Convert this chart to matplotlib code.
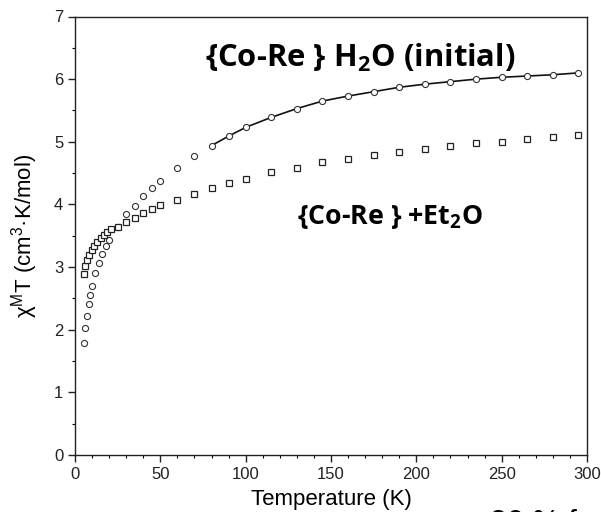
import numpy as np
import matplotlib
matplotlib.use('Agg')
import matplotlib.pyplot as plt
from matplotlib.ticker import MultipleLocator

plt.rcParams['font.family'] = ['Liberation Sans', 'DejaVu Sans']
plt.rcParams['mathtext.fontset'] = 'custom'
plt.rcParams['mathtext.rm'] = 'Liberation Sans'
plt.rcParams['mathtext.it'] = 'Liberation Sans:italic'
plt.rcParams['mathtext.bf'] = 'Open Sans:bold'

# {Co-Re} H2O (initial) - circles
t_h2o = [5, 6, 7, 8, 9, 10, 12, 14, 16, 18, 20, 25, 30, 35, 40, 45, 50, 60, 70,
         80, 90, 100, 115, 130, 145, 160, 175, 190, 205, 220, 235, 250, 265, 280, 295]
chi_h2o = [1.78, 2.02, 2.22, 2.41, 2.55, 2.70, 2.90, 3.07, 3.21, 3.33, 3.43, 3.64, 3.84, 3.98,
           4.14, 4.27, 4.38, 4.58, 4.77,
           4.94, 5.09, 5.23, 5.39, 5.53, 5.65, 5.73, 5.80, 5.87, 5.92, 5.96, 6.00, 6.03, 6.05,
           6.07, 6.10]

# {Co-Re} + Et2O - squares
t_et2o = [5, 6, 7, 8, 10, 11, 13, 15, 17, 19, 21, 25, 30, 35, 40, 45, 50, 60, 70,
          80, 90, 100, 115, 130, 145, 160, 175, 190, 205, 220, 235, 250, 265, 280, 295]
chi_et2o = [2.89, 3.01, 3.11, 3.20, 3.27, 3.33, 3.40, 3.46, 3.51, 3.56, 3.61, 3.64, 3.72, 3.78,
            3.87, 3.93, 3.99, 4.07, 4.17,
            4.26, 4.35, 4.40, 4.51, 4.58, 4.67, 4.72, 4.79, 4.84, 4.89, 4.93, 4.98, 5.00, 5.04,
            5.07, 5.11]

# fitted curve runs over the high-temperature part of the H2O data
fit_start = 80

W, H = 601, 512
fig = plt.figure(figsize=(W / 100, H / 100), dpi=100)
ax = fig.add_axes([75 / W, 1 - 455 / H, (587 - 75) / W, (455 - 16.5) / H])

t_fit = [t for t in t_h2o if t >= fit_start]
c_fit = [c for t, c in zip(t_h2o, chi_h2o) if t >= fit_start]
ax.plot(t_fit, c_fit, color='#111111', lw=1.2, zorder=2)

ax.plot(t_h2o, chi_h2o, 'o', ms=4.4, mfc='white', mec='#333333', mew=0.8, zorder=3)
ax.plot(t_et2o, chi_et2o, 's', ms=4.0, mfc='white', mec='#222222', mew=0.9, zorder=3)

ax.set_xlim(0, 300)
ax.set_ylim(0, 7)
ax.xaxis.set_major_locator(MultipleLocator(50))
ax.xaxis.set_minor_locator(MultipleLocator(10))
ax.yaxis.set_major_locator(MultipleLocator(1))
ax.yaxis.set_minor_locator(MultipleLocator(0.5))
ax.tick_params(which='major', direction='out', length=5, width=1, labelsize=12, colors='#222222')
ax.tick_params(which='minor', direction='out', length=2.5, width=0.8)
for s in ax.spines.values():
    s.set_linewidth(1.0)
    s.set_color('#222222')

ax.set_xlabel('Temperature (K)', fontsize=16)
ax.xaxis.set_label_coords(0.5, -0.078)
ax.set_ylabel(r'χ$^{\rm M}$T (cm$^{3}$·K/mol)', fontsize=16)
ax.yaxis.set_label_coords(-0.068, 0.5)

lbl1 = fig.text(205 / W, 1 - 58 / H, r'{Co-Re } H$_\mathbf{2}$O (initial)',
                family=['Open Sans', 'DejaVu Sans'], fontweight='bold', fontsize=19,
                va='center', ha='left')
lbl2 = fig.text(297 / W, 1 - 217 / H, r'{Co-Re } +Et$_\mathbf{2}$O',
                family=['Open Sans', 'DejaVu Sans'], fontweight='bold', fontsize=19,
                va='center', ha='left')

# scale the two labels to the widths they take in the original
fig.canvas.draw()
rend = fig.canvas.get_renderer()
for t, target in [(lbl1, 310), (lbl2, 186)]:
    w = t.get_window_extent(rend).width
    t.set_fontsize(t.get_fontsize() * target / w)

fig.text(490 / W, 1 - 509 / H, '30 % f', fontsize=22, va='top', ha='left')

fig.savefig('out.png', dpi=100)
